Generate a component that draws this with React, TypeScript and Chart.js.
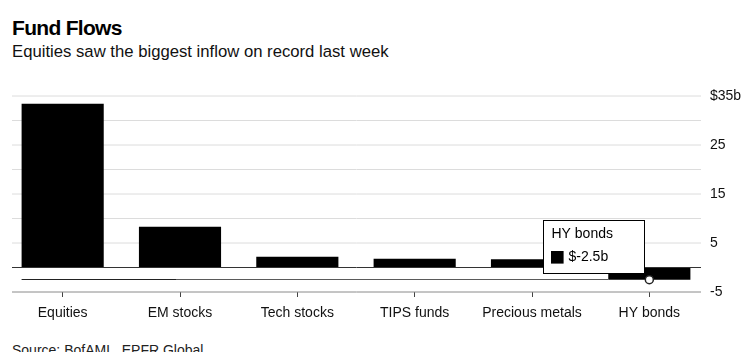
import React, { useEffect, useRef } from "react";
import { Chart, registerables } from "chart.js";

Chart.register(...registerables);

const titleText = "Fund Flows";
const subtitleText = "Equities saw the biggest inflow on record last week";
const sourceText = "Source: BofAML, EPFR Global";

const categories = ["Equities", "EM stocks", "Tech stocks", "TIPS funds", "Precious metals", "HY bonds"];
const flows = [33.4, 8.3, 2.2, 1.8, 1.7, -2.5];

const yMin = -5;
const yMax = 35;
const yStep = 5;
const yLabelValues = [-5, 5, 15, 25, 35];

const highlightedIndex = 5;

const FONT = '"Liberation Sans", Arial, Helvetica, sans-serif';

const customDraw = {
  id: "customDraw",
  beforeDatasetsDraw(chart: any) {
    const { ctx, chartArea, scales } = chart;
    const y = scales.y;
    const left = chartArea.left + 8;
    const right = chartArea.right - 7;
    ctx.save();
    ctx.lineWidth = 1;
    ctx.strokeStyle = "#dcdcdc";
    y.ticks.forEach((t: any) => {
      const v = t.value;
      if (v === 0 || v === yMin) return;
      const py = y.getPixelForValue(v);
      ctx.beginPath();
      ctx.moveTo(left, py);
      ctx.lineTo(right, py);
      ctx.stroke();
    });
    ctx.restore();
  },
  afterDatasetsDraw(chart: any) {
    const { ctx, chartArea, scales } = chart;
    const x = scales.x;
    const y = scales.y;
    const left = chartArea.left + 8;
    const right = chartArea.right - 7;
    ctx.save();
    // zero line
    ctx.lineWidth = 1;
    ctx.strokeStyle = "#333";
    let py = y.getPixelForValue(0);
    ctx.beginPath();
    ctx.moveTo(left, py);
    ctx.lineTo(right, py);
    ctx.stroke();
    // bottom axis line
    ctx.strokeStyle = "#8a8a8a";
    py = y.getPixelForValue(yMin);
    ctx.beginPath();
    ctx.moveTo(left, py);
    ctx.lineTo(right, py);
    ctx.stroke();

    const meta = chart.getDatasetMeta(0);
    const first = meta.data[0];
    const hi = meta.data[highlightedIndex];
    const barW = x.getPixelForValue(1) - x.getPixelForValue(0);
    const firstLeft = first.x - (barW * 0.7) / 2;
    const hiLeft = hi.x - (barW * 0.7) / 2;
    const hy = y.getPixelForValue(flows[highlightedIndex]);
    const hyLine = Math.floor(hy) + 0.5;
    // hover reference line
    const darkEnd = x.getPixelForValue(1) - 4;
    ctx.lineWidth = 1;
    ctx.strokeStyle = "#5a5a5a";
    ctx.beginPath();
    ctx.moveTo(darkEnd, hyLine);
    ctx.lineTo(hiLeft, hyLine);
    ctx.stroke();
    ctx.strokeStyle = "#222";
    ctx.beginPath();
    ctx.moveTo(firstLeft, hyLine);
    ctx.lineTo(darkEnd, hyLine);
    ctx.stroke();

    // marker
    ctx.beginPath();
    ctx.arc(hi.x, hy, 4, 0, Math.PI * 2);
    ctx.fillStyle = "#fff";
    ctx.fill();
    ctx.lineWidth = 1.5;
    ctx.strokeStyle = "#222";
    ctx.stroke();

    // tooltip
    const w = 101;
    const h = 53;
    const bx = Math.round(hi.x - 5 - w) + 0.5;
    const by = Math.round(hy - 7 - h) + 0.5;
    ctx.fillStyle = "#fff";
    ctx.fillRect(bx, by, w, h);
    ctx.lineWidth = 1;
    ctx.strokeStyle = "#000";
    ctx.strokeRect(bx, by, w, h);
    ctx.fillStyle = "#000";
    ctx.font = `14px ${FONT}`;
    ctx.textBaseline = "middle";
    ctx.textAlign = "left";
    ctx.fillText(categories[highlightedIndex], bx + 8, by + 14);
    ctx.fillRect(bx + 7.5, by + 30.5, 12.6, 12.6);
    ctx.fillText(`$${flows[highlightedIndex]}b`, bx + 25, by + 37);
    ctx.restore();
  },
};

export default function App() {
  const ref = useRef<HTMLCanvasElement>(null);
  useEffect(() => {
    const chart = new Chart(ref.current as HTMLCanvasElement, {
      type: "bar",
      data: {
        labels: categories,
        datasets: [
          {
            data: flows,
            backgroundColor: "#000",
            barPercentage: 0.7,
            categoryPercentage: 1.0,
          },
        ],
      },
      options: {
        responsive: false,
        animation: false,
        devicePixelRatio: 1,
        events: [],
        layout: { padding: { left: 4, top: 16, right: 0, bottom: 0 } },
        plugins: {
          legend: { display: false },
          tooltip: { enabled: false },
          title: { display: false },
        },
        scales: {
          x: {
            offset: true,
            grid: {
              display: true,
              drawOnChartArea: false,
              drawTicks: true,
              tickLength: 5,
              offset: false,
              color: "#444",
              lineWidth: 1,
            },
            border: { display: false },
            ticks: {
              color: "#111",
              font: { size: 14, family: FONT },
              padding: 8,
              maxRotation: 0,
              autoSkip: false,
            },
            afterFit: (s: any) => {
              s.height = 38;
            },
          },
          y: {
            position: "right",
            min: yMin,
            max: yMax,
            grid: { display: false, drawTicks: false, tickLength: 0 },
            border: { display: false },
            ticks: {
              stepSize: yStep,
              padding: 2,
              color: "#111",
              font: { size: 14, family: FONT },
              callback: (v: any) =>
                yLabelValues.includes(Number(v)) ? (Number(v) === yMax ? `$${v}b` : String(v)) : "",
            },
            afterFit: (s: any) => {
              s.width = 44;
            },
          },
        },
      } as any,
      plugins: [customDraw],
    });
    return () => chart.destroy();
  }, []);

  return (
    <div
      style={{
        position: "fixed",
        left: 0,
        top: 0,
        width: 752,
        height: 352,
        background: "#fff",
        overflow: "hidden",
        fontFamily: FONT,
        color: "#000",
      }}
    >
      <div
        style={{
          position: "absolute",
          left: 12,
          top: 17,
          fontSize: 21,
          lineHeight: "21px",
          fontWeight: 700,
          letterSpacing: "-0.7px",
          whiteSpace: "nowrap",
        }}
      >
        {titleText}
      </div>
      <div
        style={{
          position: "absolute",
          left: 12,
          top: 43,
          fontSize: 16.7,
          lineHeight: "17px",
          whiteSpace: "nowrap",
          color: "#111",
        }}
      >
        {subtitleText}
      </div>
      <canvas
        ref={ref}
        width={752}
        height={250}
        style={{ position: "absolute", left: 0, top: 80, width: 752, height: 250 }}
      />
      <div
        style={{
          position: "absolute",
          left: 12,
          top: 343,
          fontSize: 14,
          lineHeight: "14px",
          whiteSpace: "nowrap",
          color: "#222",
        }}
      >
        {sourceText}
      </div>
    </div>
  );
}
